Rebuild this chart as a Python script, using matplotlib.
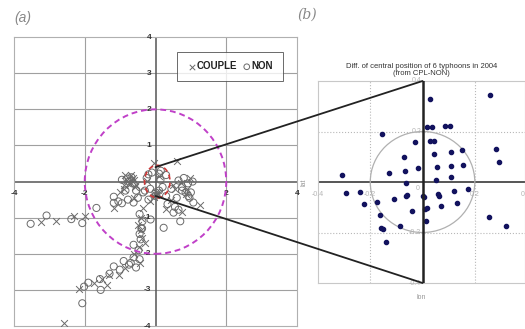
import numpy as np
import matplotlib.pyplot as plt
from matplotlib.patches import Circle, Ellipse, ConnectionPatch

plt.rcParams['font.family'] = ['Liberation Sans', 'DejaVu Sans']

# ---- panel (a): track positions, COUPLE vs NON ----
couple_lon = [-3.23, -2.82, -2.31, -1.98, -1.18, -2.59, -2.16, -1.74, -1.38, -1.32,
              -1.04, -0.48, -0.42, -0.85, -0.70, -0.76, -0.62, -0.55, -0.34, -0.03,
              0.61, 0.05, 0.02, 0.72, 0.98, 1.27, 0.45, -0.40, -0.15, 0.30,
              -0.90, -0.45, 0.85, -0.60, -0.38, 0.10, 0.55, -1.00, -0.25, 0.75,
              -0.80, -0.72, -0.65, -0.58, -0.88, 0.02, 0.08, -0.05, 0.50, 0.90,
              -0.50, -0.30, -0.60, -0.85, -1.50]
couple_lat = [-1.12, -1.10, -0.96, -0.94, -0.73, -3.93, -2.98, -2.81, -2.86, -2.58,
              -2.58, -1.80, -1.35, 0.19, 0.19, -0.03, 0.05, -0.10, -0.72, 0.51,
              0.56, -0.32, -0.38, -0.05, 0.10, -0.64, -0.50, -1.00, -0.55, -0.75,
              -0.10, -2.25, -0.35, -0.45, -1.55, 0.15, -0.20, -0.30, 0.02, -0.85,
              0.05, -0.08, 0.10, -0.15, -0.20, -0.28, -0.35, -0.42, -0.10, -0.20,
              -1.20, -1.70, -2.00, -2.40, -2.70]

non_lon = [-3.53, -3.08, -2.38, -2.07, -1.67, -1.18, -2.07, -2.02, -1.57, -1.55,
           -1.18, -1.01, -0.90, -0.75, -0.62, -0.55, -0.45, -0.62, -0.42, -0.40,
           -0.37, -0.45, -1.18, -1.05, -0.78, -0.62, -0.50, -0.80, -0.65, -0.20,
           -0.10, 0.10, 0.14, 0.00, 0.65, 0.80, 0.92, 1.05, 0.85, 0.96,
           1.07, 0.70, 0.23, 0.65, 0.51, 0.34, 0.55, 0.93, -0.14, 0.30,
           -0.30, 0.20, -0.85, 0.45, -0.95, 0.75, -0.75, -0.68, -0.95, -0.55,
           -0.35, 0.00, 0.10, -0.20, 0.30, 0.75, 1.00, 0.60, -0.45, -0.38,
           -0.48, -0.70, -1.30, -1.90, -0.25, 0.15, -0.15]
non_lat = [-1.17, -0.94, -1.04, -1.15, -0.73, -0.59, -3.37, -2.91, -2.70, -3.00,
           -2.35, -2.44, -2.20, -2.30, -2.10, -2.38, -2.15, -1.75, -1.60, -1.30,
           -1.10, -1.45, -0.42, -0.55, -0.50, -0.58, -0.45, 0.08, -0.05, 0.20,
           0.25, 0.22, 0.05, -0.40, 0.03, 0.10, -0.05, 0.00, -0.30, -0.45,
           -0.58, -1.10, -1.28, -0.78, -0.86, -0.62, -0.70, -0.40, -1.05, 0.18,
           -0.25, -0.15, -0.25, -0.20, -0.60, -0.25, 0.00, 0.12, 0.05, -0.25,
           -0.30, -0.30, -0.25, -0.50, -0.40, -0.15, -0.30, -0.45, -0.90, -1.30,
           -1.90, -2.25, -2.55, -2.80, 0.10, 0.30, -0.20]

a_xticks = [-4, -2, 2, 4]
a_yticks = [4, 3, 2, 1, -1, -2, -3, -4]

# ---- panel (b): difference of central position (CPL - NON) ----
b_lon = [0.258, 0.027, -0.155, 0.018, 0.036, 0.087, 0.106, -0.027, 0.027, 0.042,
         -0.072, 0.044, 0.108, 0.151, 0.280, 0.292, -0.018, 0.056, 0.108, 0.155,
         -0.307, -0.130, -0.069, 0.108, 0.050, -0.063, -0.291, -0.238, -0.223, -0.176,
         -0.110, -0.065, 0.001, 0.059, 0.119, 0.174, 0.130, 0.072, 0.010, -0.041,
         -0.162, 0.014, 0.255, 0.319, -0.088, -0.151, -0.140, -0.158, 0.062, -0.060,
         0.005, 0.016]
b_lat = [0.345, 0.330, 0.190, 0.217, 0.217, 0.222, 0.222, 0.157, 0.164, 0.164,
         0.098, 0.111, 0.118, 0.127, 0.131, 0.080, 0.054, 0.058, 0.063, 0.067,
         0.028, 0.034, 0.045, 0.019, 0.008, -0.005, -0.045, -0.038, -0.087, -0.081,
         -0.067, -0.056, -0.054, -0.049, -0.034, -0.029, -0.085, -0.094, -0.105, -0.114,
         -0.131, -0.155, -0.138, -0.175, -0.175, -0.185, -0.237, -0.183, -0.055, -0.052,
         -0.058, -0.102]

b_ticks = [-0.4, -0.2, 0.2, 0.4]
b_xticks = [-0.4, -0.2, 0.2]

fig = plt.figure(figsize=(5.25, 3.29), dpi=100)

# ================= (a) =================
ax = fig.add_axes([0.0267, 0.0091, 0.539, 0.878])
ax.set_xlim(-4, 4)
ax.set_ylim(-4, 4)
ax.set_xticks([])
ax.set_yticks([])
for s in ax.spines.values():
    s.set_color('#b0b0b0')
    s.set_linewidth(0.8)
for gx in [-2, 2]:
    ax.axvline(gx, color='#a0a0a0', lw=0.8, zorder=0)
for gy in [3, 2, 1, -1, -2, -3]:
    ax.axhline(gy, color='#a0a0a0', lw=0.8, zorder=0)
ax.axhline(0, color='#555555', lw=1.1, zorder=1)
ax.axvline(0, color='#555555', lw=1.1, zorder=1)

hc = ax.scatter(couple_lon, couple_lat, marker='x', s=24, color='#6a6a6a',
                linewidths=0.7, zorder=3, label='COUPLE')
hn = ax.scatter(non_lon, non_lat, marker='o', s=26, facecolors='none',
                edgecolors='#6a6a6a', linewidths=0.7, zorder=3, label='NON')

ax.add_patch(Circle((0, 0), 2, fill=False, ls=(0, (3, 2)), lw=1.4,
                    color='#c040c8', zorder=4))
ax.add_patch(Ellipse((0.05, 0), 0.72, 0.9, fill=False, ls=(0, (3, 2)), lw=1.2,
                     color='#d03838', zorder=4))

for t in a_xticks:
    ax.text(t, -0.22, str(t), ha='center', va='top', fontsize=6,
            fontweight='bold', color='#333333')
for t in a_yticks:
    ax.text(-0.12, t, str(t), ha='right', va='center', fontsize=6,
            fontweight='bold', color='#333333')

leg = ax.legend(handles=[hc, hn], ncol=2, loc='upper right',
                bbox_to_anchor=(0.95, 0.95), fontsize=7, frameon=True,
                fancybox=False, handletextpad=0.0, columnspacing=0.5,
                borderpad=1.0, handlelength=1.0, markerscale=0.8,
                borderaxespad=0)
leg.get_frame().set_edgecolor('#444444')
leg.get_frame().set_linewidth(0.7)
for txt in leg.get_texts():
    txt.set_fontweight('bold')
    txt.set_color('#222222')

# ================= (b) =================
bx = fig.add_axes([0.6057, 0.1398, 0.3943, 0.614])
bx.set_xlim(-0.4, 0.392)
bx.set_ylim(-0.4, 0.4)
bx.set_xticks([])
bx.set_yticks([])
for s in bx.spines.values():
    s.set_color('#c8c8c8')
    s.set_linewidth(0.8)
for g in [-0.2, 0.2]:
    bx.axvline(g, color='#b8b8b8', lw=0.8, ls=':', zorder=0)
    bx.axhline(g, color='#b8b8b8', lw=0.8, ls=':', zorder=0)
bx.axhline(0, color='#555555', lw=1.4, zorder=1)
bx.axvline(0, color='#222222', lw=1.8, zorder=5)
bx.add_patch(Circle((0, 0), 0.2, fill=False, color='#b0b0b0', lw=0.9, zorder=1))
bx.scatter(b_lon, b_lat, s=9, color='#12125e', zorder=4)

for t in b_xticks:
    bx.text(t, -0.05, '%g' % t, ha='center', va='center', fontsize=5, color='#b5b5b5')
bx.text(0.385, -0.05, '0', ha='center', va='center', fontsize=5, color='#b5b5b5')
for t in b_ticks:
    bx.text(-0.005, t, '%g' % t, ha='right', va='center', fontsize=5, color='#b5b5b5')
bx.text(-0.01, -0.01, '0', ha='right', va='top', fontsize=5, color='#b5b5b5')
bx.text(-0.07, 0.5, 'lat', transform=bx.transAxes, rotation=90, ha='center',
        va='center', fontsize=5, color='#999999')
bx.text(0.5, -0.07, 'lon', transform=bx.transAxes, ha='center', va='center',
        fontsize=5, color='#999999')
bx.set_title('Diff. of central position of 6 typhoons in 2004\n(from CPL-NON)',
             fontsize=5.5, color='#333333', pad=4, linespacing=1.1)

# zoom lines from (a) to (b)
for yy in [0.4, -0.4]:
    con = ConnectionPatch(xyA=(0, yy), coordsA=ax.transData, xyB=(0, yy),
                          coordsB=bx.transData, color='#222222', lw=1.3, zorder=10)
    fig.add_artist(con)

fig.text(0.027, 0.945, '(a)', fontsize=10, style='italic', color='#888888',
         va='center')
fig.text(0.566, 0.954, '(b)', fontsize=10, style='italic', color='#888888',
         va='center', family='DejaVu Serif')

fig.savefig('out.png', dpi=100)
